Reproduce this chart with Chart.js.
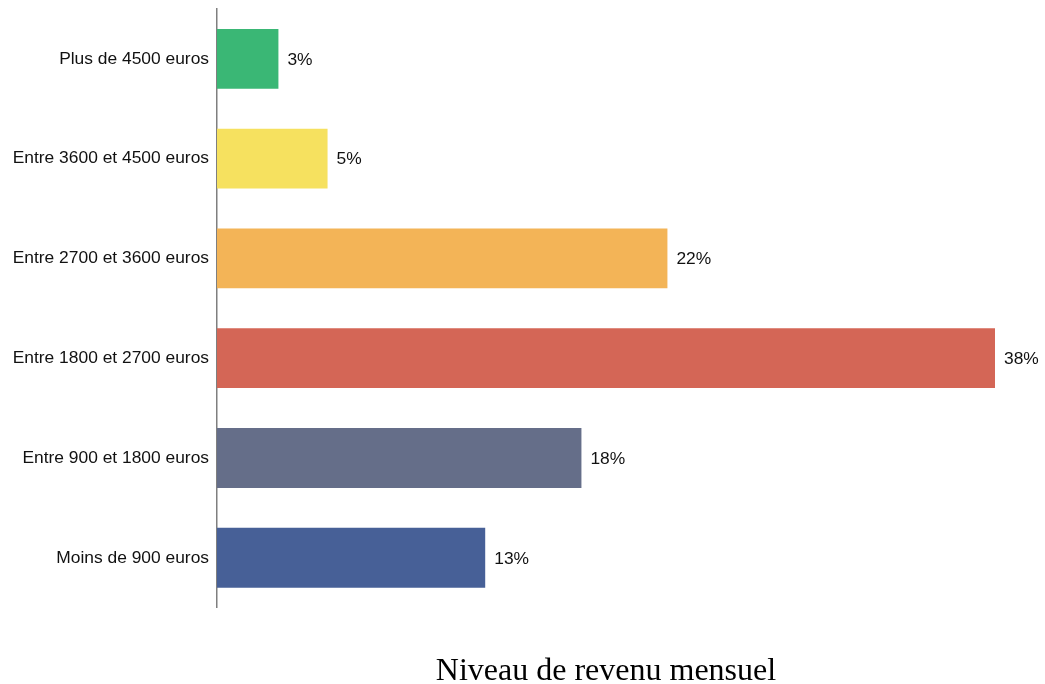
<!DOCTYPE html>
<html>
<head>
<meta charset="utf-8">
<script src="https://cdn.jsdelivr.net/npm/chart.js@4"></script>
<style>
  html, body { margin: 0; padding: 0; background: #fff; }
  #wrap { width: 1045px; height: 684px; }
</style>
</head>
<body>
<div id="wrap"><canvas id="mycanvas" width="1045" height="684"></canvas></div>
<script>
var categories = ['Plus de 4500 euros', 'Entre 3600 et 4500 euros', 'Entre 2700 et 3600 euros',
                  'Entre 1800 et 2700 euros', 'Entre 900 et 1800 euros', 'Moins de 900 euros'];
var values = [3.0, 5.4, 22.0, 38.0, 17.8, 13.1];
var colors = ['#3ab775', '#f6e15f', '#f3b457', '#d46656', '#656e89', '#476097'];

// write the % next to each bar
var valueLabels = {
	id: 'valueLabels',
	afterDatasetsDraw: function(chart) {
		var ctx = chart.ctx;
		var meta = chart.getDatasetMeta(0);
		ctx.save();
		ctx.font = '17.4px "Liberation Sans", Arial, sans-serif';
		ctx.fillStyle = '#111';
		ctx.textBaseline = 'middle';
		ctx.textAlign = 'left';
		meta.data.forEach(function(bar, i) {
			ctx.fillText(Math.round(values[i]) + '%', bar.x + 9, bar.y + 1);
		});
		ctx.restore();
	}
};

var chart = new Chart(document.getElementById('mycanvas'), {
	type: 'bar',
	data: {
		labels: categories,
		datasets: [{
			data: values,
			backgroundColor: colors,
			borderWidth: 0,
			barPercentage: 0.6,
			categoryPercentage: 1
		}]
	},
	options: {
		responsive: false,
		animation: false,
		indexAxis: 'y',
		layout: { padding: { top: 9, right: 50, left: 0, bottom: 0 } },
		plugins: {
			legend: { display: false },
			tooltip: { enabled: false }
		},
		scales: {
			x: {
				min: 0,
				max: 38,
				ticks: { display: false },
				grid: { display: false },
				border: { display: false },
				title: {
					display: true,
					text: 'Niveau de revenu mensuel',
					color: '#000',
					font: { family: '"Liberation Serif", "Times New Roman", serif', size: 32 },
					padding: { top: 37, bottom: -7 }
				}
			},
			y: {
				afterFit: function(scale) {
					scale.width = 217;
					scale.paddingTop = 0;
					scale.paddingBottom = 0;
				},
				grid: { display: false, drawTicks: false },
				border: { display: true, color: '#7f7f7f', width: 1.5 },
				ticks: {
					color: '#111',
					padding: 8,
					font: { family: '"Liberation Sans", Arial, sans-serif', size: 17.4 }
				}
			}
		}
	},
	plugins: [valueLabels]
});
</script>
</body>
</html>
